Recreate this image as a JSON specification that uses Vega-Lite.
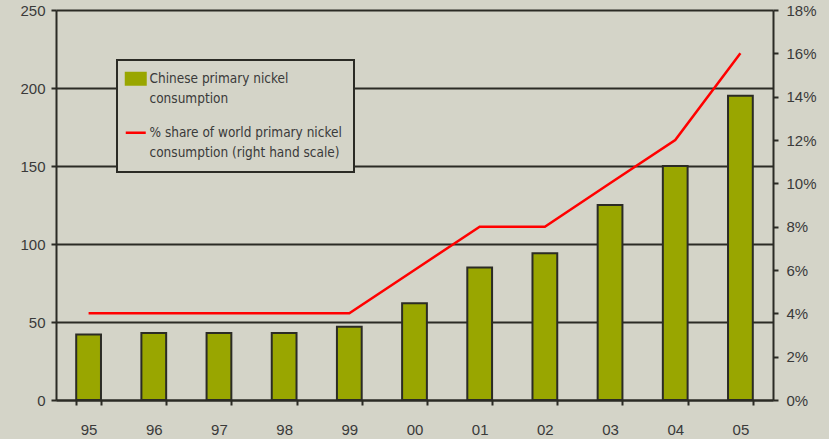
{
  "$schema": "https://vega.github.io/schema/vega-lite/v6.json",
  "width": 717,
  "height": 390,
  "autosize": {"type": "none"},
  "padding": {"left": 56, "top": 10, "right": 56, "bottom": 39},
  "background": "#d4d4c8",
  "config": {
    "view": {"stroke": null},
    "font": "Liberation Sans",
    "axis": {
      "labelFont": "Liberation Sans",
      "labelFontSize": 15,
      "labelColor": "#3a3a3a",
      "domainColor": "#2b2b25",
      "domainWidth": 2,
      "tickColor": "#2b2b25",
      "tickWidth": 2,
      "tickSize": 5,
      "title": null
    },
    "legend": {
      "orient": "none",
      "legendX": 61,
      "legendY": 50,
      "padding": 12,
      "strokeColor": "#2b2b25",
      "strokeWidth": 2,
      "fillColor": "#d4d4c8",
      "labelFont": "DejaVu Sans Condensed",
      "labelFontSize": 13.5,
      "labelColor": "#3a3a3a",
      "labelLimit": 400,
      "symbolSize": 400,
      "rowPadding": 19,
      "labelOffset": 7
    }
  },
  "data": {
    "values": [
      {"year": "95", "consumption": 42, "share": 4},
      {"year": "96", "consumption": 43, "share": 4},
      {"year": "97", "consumption": 43, "share": 4},
      {"year": "98", "consumption": 43, "share": 4},
      {"year": "99", "consumption": 47, "share": 4},
      {"year": "00", "consumption": 62, "share": 6},
      {"year": "01", "consumption": 85, "share": 8},
      {"year": "02", "consumption": 94, "share": 8},
      {"year": "03", "consumption": 125, "share": 10},
      {"year": "04", "consumption": 150, "share": 12},
      {"year": "05", "consumption": 195, "share": 16}
    ]
  },
  "encoding": {
    "x": {
      "field": "year",
      "type": "ordinal",
      "sort": ["95","96","97","98","99","00","01","02","03","04","05"],
      "scale": {"paddingInner": 0.62, "paddingOuter": 0.31},
      "axis": {"labelAngle": 0, "tickBand": "extent", "labelPadding": 17}
    },
    "color": {
      "field": "series",
      "type": "nominal",
      "scale": {
        "domain": ["Chinese primary nickel|consumption", "% share of world primary nickel|consumption (right hand scale)"],
        "range": ["#99a600", "#ff0000"]
      },
      "legend": {
        "title": null,
        "labelExpr": "split(datum.label, '|')",
        "encode": {
          "symbols": {
            "update": {
              "shape": {"signal": "datum.index === 0 ? 'M-1,-0.6H1V0.6H-1Z' : 'stroke'"},
              "fill": {"signal": "datum.index === 0 ? '#99a600' : 'transparent'"},
              "stroke": {"signal": "datum.index === 0 ? '#2b2b25' : '#ff0000'"},
              "strokeWidth": {"signal": "datum.index === 0 ? 2 : 2.5"},
              "opacity": {"value": 1}
            }
          },
          "labels": {
            "update": {
              "lineHeight": {"value": 20}
            }
          }
        }
      }
    }
  },
  "layer": [
    {
      "transform": [{"calculate": "'Chinese primary nickel|consumption'", "as": "series"}],
      "mark": {"type": "bar", "stroke": "#2b2b25", "strokeWidth": 2},
      "encoding": {
        "y": {
          "field": "consumption",
          "type": "quantitative",
          "scale": {"domain": [0, 250], "nice": false},
          "axis": {
            "values": [0, 50, 100, 150, 200, 250],
            "grid": true,
            "gridColor": "#2b2b25",
            "gridWidth": 2,
            "labelPadding": 6
          }
        }
      }
    },
    {
      "transform": [{"calculate": "'% share of world primary nickel|consumption (right hand scale)'", "as": "series"}],
      "mark": {"type": "line", "strokeWidth": 2.5},
      "encoding": {
        "y": {
          "field": "share",
          "type": "quantitative",
          "scale": {"domain": [0, 18], "nice": false},
          "axis": {
            "orient": "right",
            "values": [0, 2, 4, 6, 8, 10, 12, 14, 16, 18],
            "labelExpr": "datum.value + '%'",
            "grid": false,
            "labelPadding": 8
          }
        }
      }
    }
  ],
  "resolve": {"scale": {"y": "independent"}}
}
